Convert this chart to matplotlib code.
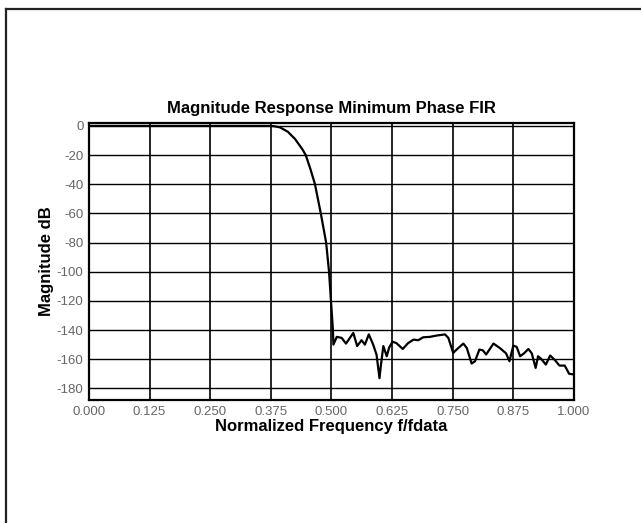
import matplotlib.pyplot as plt
from matplotlib.lines import Line2D

# Magnitude response of the minimum phase FIR (normalized frequency, dB)
freq = [0.000, 0.100, 0.200, 0.300, 0.370, 0.380, 0.394, 0.410, 0.425, 0.440,
        0.447, 0.457, 0.466, 0.478, 0.489, 0.495, 0.499, 0.503, 0.504,
        0.511, 0.521, 0.530, 0.545, 0.553, 0.562, 0.569, 0.577, 0.586, 0.593,
        0.599, 0.602, 0.607, 0.614, 0.619, 0.626, 0.634, 0.647, 0.658, 0.669,
        0.679, 0.689, 0.703, 0.717, 0.734, 0.741, 0.751, 0.758, 0.772, 0.779,
        0.789, 0.796, 0.805, 0.812, 0.819, 0.834, 0.847, 0.860, 0.867, 0.875,
        0.882, 0.889, 0.897, 0.906, 0.913, 0.921, 0.926, 0.933, 0.942, 0.951,
        0.961, 0.970, 0.981, 0.990, 1.000]
mag_db = [0.0, 0.0, 0.0, 0.0, 0.0, -0.1, -1.0, -4.0, -9.0, -16.0,
          -20.0, -30.0, -40.0, -60.0, -80.0, -100.0, -120.0, -140.0, -150.0,
          -144.7, -145.4, -149.3, -142.0, -151.0, -147.0, -150.0, -143.0, -150.0, -157.0,
          -173.0, -164.0, -151.0, -158.0, -152.0, -148.0, -149.0, -153.0, -149.0, -146.6,
          -147.0, -145.0, -144.7, -143.8, -143.0, -145.4, -155.7, -153.4, -149.3, -152.3,
          -163.0, -161.4, -153.4, -153.9, -156.8, -149.3, -152.3, -156.0, -161.4, -150.7,
          -151.6, -158.0, -156.0, -153.0, -156.0, -166.0, -158.0, -160.0, -163.7, -157.5,
          -160.7, -164.4, -164.4, -170.0, -170.5]

xticks = [0.0, 0.125, 0.25, 0.375, 0.5, 0.625, 0.75, 0.875, 1.0]
xtick_labels = ['0.000', '0.125', '0.250', '0.375', '0.500', '0.625', '0.750', '0.875', '1.000']
yticks = [0, -20, -40, -60, -80, -100, -120, -140, -160, -180]

plt.rcParams['font.family'] = ['Liberation Sans', 'DejaVu Sans']
plt.rcParams['axes.unicode_minus'] = False

fig = plt.figure(figsize=(6.41, 5.23), dpi=100)
ax = fig.add_axes([0.1388, 0.2352, 0.7566, 0.5296])

# grid drawn as plain black lines
for x in xticks[1:-1]:
    ax.axvline(x, color='black', lw=1.2, zorder=1)
for y in yticks:
    ax.axhline(y, color='black', lw=1.0, zorder=1)

ax.plot(freq, mag_db, color='black', lw=1.6, zorder=3)

ax.set_xlim(0, 1)
ax.set_ylim(-188, 2)
ax.set_xticks(xticks)
ax.set_xticklabels(xtick_labels)
ax.set_yticks(yticks)
ax.tick_params(length=0, labelsize=9.5, labelcolor='#666666', pad=4)
for s in ax.spines.values():
    s.set_linewidth(1.6)

ax.set_title('Magnitude Response Minimum Phase FIR', fontsize=12, fontweight='bold', pad=7)
ax.set_xlabel('Normalized Frequency f/fdata', fontsize=12, fontweight='bold', labelpad=1)
ax.set_ylabel('Magnitude dB', fontsize=12, fontweight='bold', labelpad=2)

# partial page frame along the top and left edges
fig.add_artist(Line2D([6 / 641, 1], [1 - 9 / 523, 1 - 9 / 523], color='#222222', lw=1.6,
                      transform=fig.transFigure))
fig.add_artist(Line2D([6 / 641, 6 / 641], [0, 1 - 9 / 523], color='#222222', lw=1.6,
                      transform=fig.transFigure))

fig.savefig('out.png', dpi=100)
